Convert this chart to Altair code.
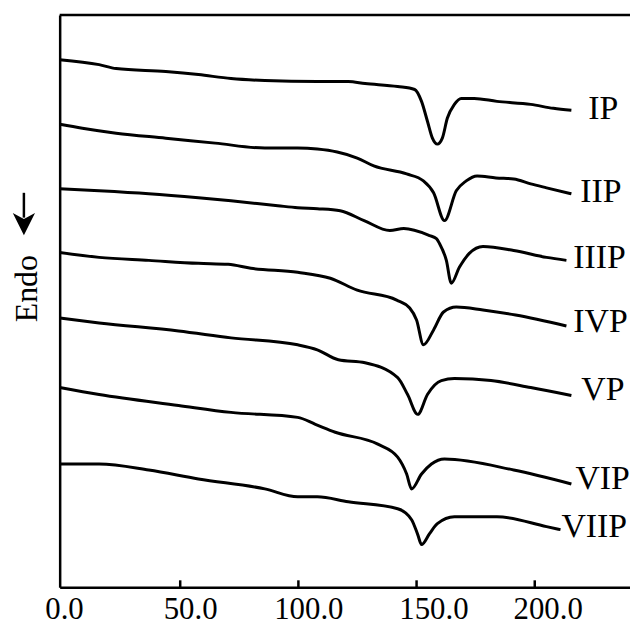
import altair as alt
import pandas as pd

FONT = "Liberation Serif"

# Temperature (°C) and DSC signal (arbitrary units, endotherm downward)
ip_t = [-1, 15.7, 22.9, 43.9, 57.7, 71.5, 85.8, 108.0, 121.1, 128.2, 142.0, 149.2, 152.1, 154.6, 156.7, 158.8, 160.9, 163.0, 166.0, 168.9, 174.4, 184.0, 198.3, 207.9, 215.5]
ip_s = [53.1, 52.6, 52.2, 51.9, 51.6, 51.2, 51.0, 50.9, 50.9, 50.7, 50.4, 50.1, 48.9, 46.9, 45.2, 44.6, 45.2, 47.2, 48.6, 49.2, 49.2, 48.9, 48.6, 48.2, 48.0]

iip_t = [-1, 8.6, 22.9, 43.9, 64.8, 85.8, 99.7, 108.0, 116.4, 124.9, 131.9, 145.8, 152.9, 157.2, 161.8, 166.8, 171.0, 175.6, 183.6, 191.1, 198.3, 205.0, 215.5]
iip_s = [46.6, 46.2, 45.7, 45.2, 44.7, 44.2, 44.2, 44.1, 43.8, 43.2, 42.4, 41.6, 40.9, 39.7, 36.9, 39.9, 40.9, 41.4, 41.2, 41.1, 40.6, 40.2, 39.6]

iiip_t = [-1, 15.7, 36.7, 57.7, 71.5, 91.3, 99.7, 108.0, 117.7, 127.8, 138.7, 144.6, 155.5, 158.4, 159.7, 162.6, 164.7, 168.1, 172.3, 178.1, 191.1, 205.0, 213.4]
iiip_s = [40.1, 39.9, 39.6, 39.2, 38.9, 38.4, 38.2, 38.1, 37.9, 36.9, 35.9, 36.1, 35.4, 35.1, 34.6, 32.9, 30.6, 32.2, 33.6, 34.3, 33.9, 33.2, 32.9]

ivp_t = [-1, 15.7, 36.7, 57.7, 70.3, 79.9, 99.7, 113.5, 124.9, 141.6, 147.1, 150.0, 152.9, 157.2, 161.4, 166.8, 178.1, 191.9, 213.4]
ivp_s = [33.7, 33.2, 32.9, 32.6, 32.5, 32.1, 31.7, 31.1, 29.9, 28.9, 28.1, 26.9, 24.4, 25.9, 27.7, 28.2, 27.9, 27.4, 26.3]

vp_t = [-1, 15.7, 49.3, 71.5, 99.7, 108.0, 116.9, 128.2, 142.0, 146.2, 150.5, 154.6, 160.5, 166.0, 181.5, 198.3, 215.5]
vp_s = [27.1, 26.6, 25.8, 25.1, 24.4, 23.9, 22.9, 22.6, 21.1, 19.4, 17.4, 19.4, 20.8, 21.0, 20.8, 20.1, 19.3]

vip_t = [-1, 15.7, 49.3, 71.5, 99.7, 107.2, 115.6, 133.6, 142.0, 145.8, 147.9, 152.1, 156.3, 161.8, 191.1, 215.5]
vip_s = [20.1, 19.4, 18.3, 17.6, 17.1, 16.4, 15.6, 14.4, 13.1, 11.4, 9.9, 11.4, 12.4, 12.9, 11.8, 10.4]

viip_t = [-1, 15.7, 36.7, 57.7, 85.8, 99.7, 108.0, 121.1, 142.0, 147.9, 150.5, 152.1, 155.5, 158.8, 166.0, 184.0, 205.0, 210.9]
viip_s = [12.4, 12.4, 11.8, 10.9, 9.9, 9.1, 9.1, 8.6, 7.9, 6.8, 5.3, 4.3, 5.4, 6.4, 7.1, 7.1, 6.1, 5.8]

label_names = ["IP", "IIP", "IIIP", "IVP", "VP", "VIP", "VIIP"]
label_t = [222.6, 219.3, 216.3, 216.3, 219.7, 217.2, 211.3]
label_s = [48.1, 39.8, 33.1, 26.7, 19.8, 10.9, 6.1]

tick_values = [0, 50, 100, 150, 200]

series = [
    ("IP", ip_t, ip_s), ("IIP", iip_t, iip_s), ("IIIP", iiip_t, iiip_s),
    ("IVP", ivp_t, ivp_s), ("VP", vp_t, vp_s), ("VIP", vip_t, vip_s),
    ("VIIP", viip_t, viip_s),
]

rows = []
for name, ts, ss in series:
    for i, (t, s) in enumerate(zip(ts, ss)):
        rows.append({"sample": name, "order": i, "T": t, "S": s})
df = pd.DataFrame(rows)

labels_df = pd.DataFrame({"name": label_names, "T": label_t, "S": label_s})
ticks_df = pd.DataFrame({"T": tick_values[1:]})

W, H = 574, 576
xscale = alt.Scale(domain=[-1, 240.3], nice=False, zero=False)
yscale = alt.Scale(domain=[0, 57.6], nice=False, zero=False)

x_axis = alt.Axis(
    values=tick_values, format=".1f", title=None, tickSize=0, grid=False,
    labelFont=FONT, labelFontSize=31, labelColor="black", labelPadding=7,
    labelOffset={
        "condition": [
            {"test": "datum.value == 0", "value": 2},
            {"test": "datum.value == 150", "value": 17},
            {"test": "datum.value == 200", "value": 13},
        ],
        "value": 10,
    },
    labelFlush=False, labelOverlap=False, labelBound=False,
    domainColor="black", domainWidth=2.5,
)
y_axis = alt.Axis(
    title="Endo", ticks=False, labels=False, grid=False,
    domainColor="black", domainWidth=2.5,
    titleFont=FONT, titleFontSize=32, titleFontWeight="normal", titleColor="black",
    titleAngle=270, titleX=-33, titleY=275, titleAlign="center", titleBaseline="middle",
)

lines = alt.Chart(df).mark_line(color="black", strokeWidth=3, interpolate="monotone").encode(
    x=alt.X("T:Q", scale=xscale, axis=x_axis),
    y=alt.Y("S:Q", scale=yscale, axis=y_axis),
    detail="sample:N",
    order="order:Q",
)

labels = alt.Chart(labels_df).mark_text(
    font=FONT, fontSize=34, color="black", align="left", baseline="middle"
).encode(
    x=alt.X("T:Q", scale=xscale),
    y=alt.Y("S:Q", scale=yscale),
    text="name:N",
)

ticks = alt.Chart(ticks_df).mark_rule(color="black", strokeWidth=2.5).encode(
    x=alt.X("T:Q", scale=xscale),
    y=alt.value(H),
    y2=alt.value(H - 7),
)

one = pd.DataFrame({"a": [0]})
top_border = alt.Chart(one).mark_rule(color="black", strokeWidth=2.5).encode(
    x=alt.value(0), x2=alt.value(W), y=alt.value(0)
)

# "Endo" arrow (pointing down) beside the axis title
arrow_shaft = alt.Chart(one).mark_rule(color="black", strokeWidth=2.5).encode(
    x=alt.value(-36), y=alt.value(179), y2=alt.value(204)
)
arrow_head = alt.Chart(one).mark_point(
    shape="M0,1 L-1,-1 L0,-0.45 L1,-1 Z", filled=True, color="black", opacity=1, size=500
).encode(x=alt.value(-36), y=alt.value(210.5))

chart = alt.layer(lines, labels, ticks, top_border, arrow_shaft, arrow_head).properties(
    width=W, height=H,
    autosize=alt.AutoSizeParams(type="none"),
    padding={"left": 52, "top": 5, "right": 0, "bottom": 39},
    background="white",
).configure_view(stroke=None)

chart.save("out.html", embed_options={"renderer": "svg", "actions": False})
